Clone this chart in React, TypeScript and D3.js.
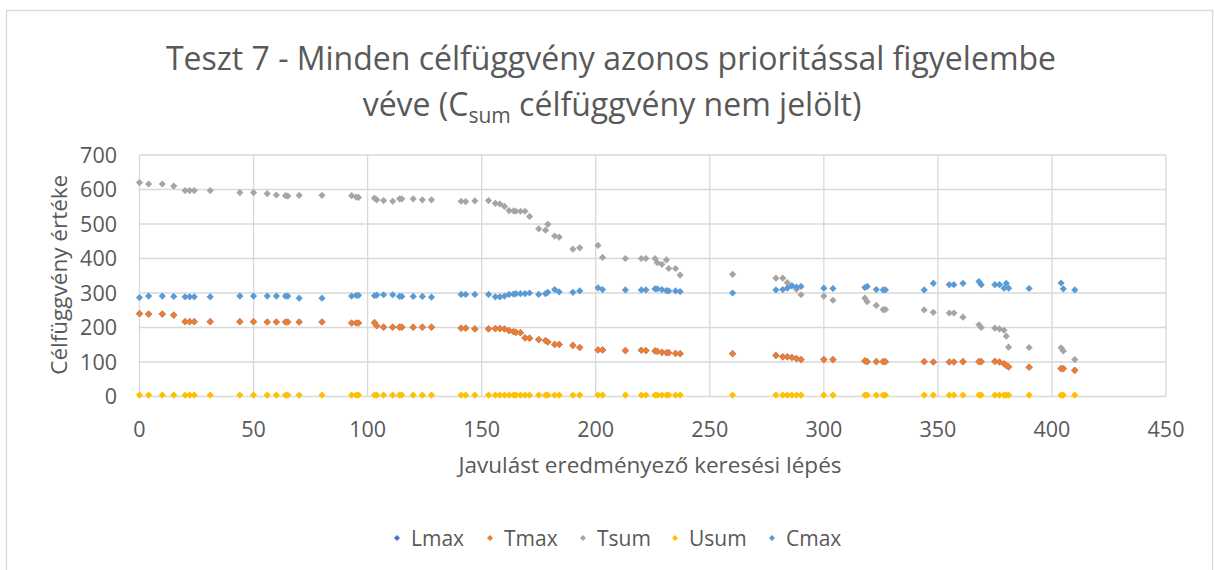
import React from "react";
import * as d3 from "d3";

// lépésszámok (x) — minden sorozat ugyanazokon a lépéseken
const steps = [
  0, 4, 10, 15, 20, 22, 24, 31, 44, 50, 56, 60, 64, 65, 70, 80, 93, 95, 96, 103,
  104, 107, 111, 114, 115, 120, 124, 128, 141, 143, 147, 153, 156, 158, 160, 162, 164, 165, 167, 169,
  171, 175, 178, 179, 182, 184, 190, 193, 201, 203, 213, 220, 222, 226, 227, 229, 231, 232, 235, 237,
  260, 279, 282, 284, 286, 288, 290, 300, 304, 318, 319, 323, 326, 327, 344, 348, 355, 357, 361, 368,
  369, 375, 377, 379, 380, 381, 390, 404, 405, 410,
];

const tmax = [
  240, 239, 239, 236, 217, 217, 217, 217, 217, 217, 216, 216, 216, 216, 216, 216, 213, 213, 213, 214,
  205, 201, 201, 201, 201, 201, 201, 201, 198, 198, 196, 196, 197, 197, 196, 191, 188, 186, 185, 170,
  169, 165, 162, 158, 151, 151, 148, 142, 135, 135, 133, 134, 133, 132, 131, 128, 127, 127, 125, 124,
  124, 119, 115, 115, 113, 110, 107, 107, 107, 103, 101, 101, 101, 101, 101, 100, 100, 100, 101, 101,
  101, 102, 100, 95, 90, 86, 85, 81, 81, 76,
];

const tsum = [
  620, 616, 616, 610, 597, 597, 597, 597, 591, 591, 588, 584, 582, 581, 583, 583, 582, 578, 577, 575,
  570, 568, 566, 573, 573, 573, 570, 570, 566, 565, 567, 568, 560, 558, 551, 539, 538, 537, 537, 537,
  522, 486, 482, 499, 465, 462, 427, 431, 438, 403, 400, 400, 400, 400, 388, 383, 396, 371, 371, 352,
  354, 343, 343, 330, 321, 311, 295, 291, 279, 285, 275, 264, 252, 252, 251, 244, 242, 242, 230, 208,
  200, 198, 196, 192, 175, 143, 142, 141, 132, 107,
];

const usum = [
  4, 4, 4, 4, 4, 4, 4, 4, 4, 4, 4, 4, 4, 4, 4, 4, 4, 4, 4, 4,
  4, 4, 4, 4, 4, 4, 4, 4, 4, 4, 4, 4, 4, 4, 4, 4, 4, 4, 4, 4,
  4, 4, 4, 4, 4, 4, 4, 4, 4, 4, 4, 4, 4, 4, 4, 4, 4, 4, 4, 4,
  4, 4, 4, 4, 4, 4, 4, 4, 4, 4, 4, 4, 4, 4, 4, 4, 4, 4, 4, 4,
  4, 4, 4, 4, 4, 4, 4, 4, 4, 4,
];

const cmax = [
  287, 291, 291, 290, 289, 289, 289, 289, 291, 291, 291, 291, 291, 291, 285, 285, 291, 293, 293, 292,
  294, 295, 295, 290, 290, 290, 290, 288, 296, 296, 296, 296, 289, 289, 291, 296, 297, 298, 298, 298,
  300, 296, 298, 302, 310, 303, 302, 306, 315, 310, 309, 309, 309, 312, 312, 310, 307, 306, 306, 304,
  300, 309, 310, 314, 321, 317, 319, 314, 313, 316, 319, 310, 309, 309, 309, 328, 324, 324, 328, 333,
  324, 324, 324, 314, 328, 314, 313, 329, 312, 309,
];

// Lmax = Tmax itt (pozitív késés), ezért a Tmax pontok alatt eltűnik
const lmax = tmax;

const seriesNames = ["Lmax", "Tmax", "Tsum", "Usum", "Cmax"];
const seriesValues = [lmax, tmax, tsum, usum, cmax];
const seriesColors = ["#4472C4", "#ED7D31", "#A5A5A5", "#FFC000", "#5B9BD5"];

const xTicks = [0, 50, 100, 150, 200, 250, 300, 350, 400, 450];
const yTicks = [0, 100, 200, 300, 400, 500, 600, 700];

const W = 1214;
const H = 570;
const plot = { left: 139.5, right: 1166, top: 155, bottom: 396.5 };
const font = "'Open Sans', 'Noto Sans', sans-serif";
const textColor = "#595959";
const gridColor = "#d9d9d9";

const diamond = (r: number) => `M0,${-r}L${r},0L0,${r}L${-r},0Z`;

export default function App() {
  const x = d3.scaleLinear().domain([0, 450]).range([plot.left, plot.right]);
  const y = d3.scaleLinear().domain([0, 700]).range([plot.bottom, plot.top]);

  const legendX = [397, 490, 583, 675, 772];

  return (
    <svg
      width={W}
      height={H}
      style={{ position: "absolute", left: 0, top: 0, background: "#fff" }}
      fontFamily={font}
    >
      <rect x={6.5} y={10.5} width={1206} height={580} fill="#fff" stroke={gridColor} strokeWidth={1.3} />

      <text x={611} y={70} textAnchor="middle" fontSize={32} fill={textColor}>
        Teszt 7 - Minden célfüggvény azonos prioritással figyelembe
      </text>
      <text x={612} y={116} textAnchor="middle" fontSize={32} fill={textColor}>
        véve (C<tspan fontSize={21} dy={7}>sum</tspan>
        <tspan dy={-7}> célfüggvény nem jelölt)</tspan>
      </text>

      {/* rácsvonalak */}
      {yTicks.map((t) => (
        <line key={"gy" + t} x1={plot.left} x2={plot.right} y1={y(t)} y2={y(t)} stroke={gridColor} strokeWidth={1.3} />
      ))}
      {xTicks.map((t) => (
        <line key={"gx" + t} x1={x(t)} x2={x(t)} y1={plot.top} y2={plot.bottom} stroke={gridColor} strokeWidth={1.3} />
      ))}

      {yTicks.map((t) => (
        <text key={"ty" + t} x={117} y={y(t) + 7.5} textAnchor="end" fontSize={21.5} fill={textColor}>
          {t}
        </text>
      ))}
      {xTicks.map((t) => (
        <text key={"tx" + t} x={x(t)} y={437} textAnchor="middle" fontSize={21.5} fill={textColor}>
          {t}
        </text>
      ))}

      <text
        transform={`translate(67,${(plot.top + plot.bottom) / 2 - 1}) rotate(-90)`}
        textAnchor="middle"
        fontSize={22.5}
        fill={textColor}
      >
        Célfüggvény értéke
      </text>
      <text x={650} y={473} textAnchor="middle" fontSize={22.5} fill={textColor}>
        Javulást eredményező keresési lépés
      </text>

      {/* pontok */}
      {seriesValues.map((vals, si) => (
        <g key={seriesNames[si]} fill={seriesColors[si]}>
          {vals.map((v, i) => (
            <path key={i} d={diamond(3.6)} transform={`translate(${x(steps[i])},${y(v)})`} />
          ))}
        </g>
      ))}

      {/* jelmagyarázat */}
      {seriesNames.map((n, i) => (
        <g key={"lg" + n} transform={`translate(${legendX[i]},538)`}>
          <path d={diamond(3)} fill={seriesColors[i]} />
          <text x={14} y={7.5} fontSize={21} fill={textColor}>
            {n}
          </text>
        </g>
      ))}
    </svg>
  );
}
